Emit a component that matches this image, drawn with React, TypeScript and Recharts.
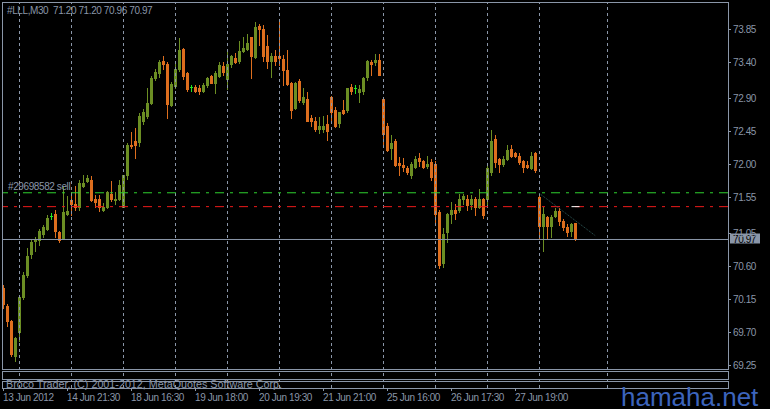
import { ComposedChart, Bar, XAxis, YAxis, ReferenceLine } from 'recharts';

// #LLL M30 candles, left to right
const opens = [
  70.31, 70.06, 69.85, 69.37, 69.70, 70.18, 70.48, 70.77, 70.95, 70.96, 71.04, 71.11, 71.29, 71.32, 71.07, 70.99,
  71.32, 71.51, 71.45, 71.42, 71.70, 71.77, 71.79, 71.53, 71.53, 71.38, 71.41, 71.60, 71.51, 71.53, 71.42, 71.86,
  72.27, 72.32, 72.30, 72.60, 72.66, 72.84, 73.18, 73.25, 73.41, 73.38, 72.81, 73.07, 73.30, 73.58, 73.25, 73.06,
  73.06, 73.04, 73.00, 73.08, 73.21, 73.11, 73.21, 73.34, 73.17, 73.37, 73.45, 73.41, 73.55, 73.58, 73.74, 73.47,
  73.89, 73.86, 73.62, 73.41, 73.49, 73.49, 73.44, 73.29, 73.12, 72.77, 73.14, 72.85, 72.90, 72.64, 72.59, 72.48,
  72.49, 72.55, 72.92, 72.75, 72.56, 72.74, 72.74, 73.06, 73.04, 72.99, 73.00, 73.19, 73.40, 73.40, 73.43, 72.90,
  72.52, 72.22, 72.32, 72.02, 71.99, 71.95, 71.86, 71.96, 72.08, 72.05, 71.97, 72.03, 72.01, 71.34, 70.65, 71.07,
  71.32, 71.38, 71.38, 71.52, 71.52, 71.45, 71.53, 71.41, 71.52, 71.52, 71.89, 72.34, 72.07, 72.00, 72.07, 72.21,
  72.15, 72.11, 72.05, 71.99, 71.95, 72.16, 71.55, 71.15, 71.28, 71.15, 71.29, 71.36, 71.22, 71.14, 71.08, 71.20,
];
const highs = [
  70.34, 70.08, 69.87, 69.64, 70.20, 70.53, 70.85, 70.98, 71.00, 71.11, 71.17, 71.30, 71.33, 71.38, 71.08, 71.69,
  71.56, 71.62, 71.70, 71.78, 71.86, 71.86, 71.84, 71.58, 71.58, 71.47, 71.64, 71.77, 71.62, 71.78, 71.86, 72.29,
  72.44, 72.50, 72.70, 72.76, 73.04, 73.21, 73.30, 73.43, 73.49, 73.40, 73.13, 73.40, 73.73, 73.60, 73.26, 73.09,
  73.09, 73.08, 73.12, 73.20, 73.23, 73.28, 73.40, 73.40, 73.56, 73.50, 73.53, 73.69, 73.74, 73.79, 73.75, 73.95,
  73.92, 73.91, 73.77, 73.53, 73.57, 73.95, 73.50, 73.56, 73.13, 73.13, 73.17, 73.05, 72.99, 72.68, 72.65, 72.65,
  72.66, 72.67, 72.94, 72.79, 72.72, 72.88, 73.05, 73.10, 73.08, 73.08, 73.19, 73.43, 73.43, 73.51, 73.51, 72.92,
  72.56, 72.40, 72.34, 72.10, 72.08, 71.98, 72.03, 72.12, 72.15, 72.06, 72.11, 72.07, 72.05, 71.37, 71.13, 71.33,
  71.48, 71.45, 71.60, 71.60, 71.58, 71.58, 71.55, 71.66, 71.54, 71.97, 72.47, 72.40, 72.09, 72.11, 72.26, 72.27,
  72.17, 72.16, 72.06, 72.04, 72.17, 72.17, 71.61, 71.41, 71.29, 71.31, 71.40, 71.40, 71.25, 71.18, 71.20, 71.20,
];
const lows = [
  70.03, 69.78, 69.37, 69.31, 69.58, 70.15, 70.46, 70.72, 70.81, 70.89, 71.01, 71.10, 71.25, 71.01, 70.94, 70.98,
  71.30, 71.30, 71.37, 71.37, 71.69, 71.76, 71.50, 71.42, 71.36, 71.36, 71.40, 71.50, 71.46, 71.51, 71.41, 71.80,
  72.22, 72.08, 72.25, 72.55, 72.64, 72.83, 73.15, 73.20, 73.30, 72.63, 72.80, 73.05, 73.28, 73.17, 73.00, 73.01,
  72.99, 72.96, 72.99, 73.06, 73.11, 72.97, 73.19, 73.22, 73.03, 73.33, 73.39, 73.39, 73.54, 73.56, 73.18, 73.45,
  73.64, 73.42, 73.32, 73.19, 73.36, 73.36, 73.08, 73.09, 72.64, 72.76, 72.85, 72.82, 72.59, 72.52, 72.45, 72.43,
  72.44, 72.33, 72.59, 72.51, 72.51, 72.69, 72.72, 72.96, 72.98, 72.85, 72.96, 73.16, 73.23, 73.36, 73.22, 72.26,
  72.18, 72.07, 71.98, 71.86, 71.91, 71.87, 71.81, 71.95, 71.97, 71.95, 71.95, 71.79, 71.21, 70.58, 70.60, 70.93,
  71.19, 71.25, 71.35, 71.45, 71.38, 71.39, 71.31, 71.40, 71.26, 71.42, 71.85, 71.96, 71.89, 71.98, 72.06, 72.10,
  72.10, 72.00, 71.90, 71.95, 71.94, 71.90, 70.99, 70.81, 70.97, 71.00, 71.28, 71.17, 71.10, 71.02, 71.02, 70.96,
];
const closes = [
  70.08, 69.86, 69.40, 69.62, 70.18, 70.48, 70.75, 70.93, 70.98, 71.08, 71.14, 71.27, 71.29, 71.09, 70.96, 71.34,
  71.36, 71.45, 71.41, 71.75, 71.75, 71.81, 71.51, 71.48, 71.41, 71.42, 71.62, 71.52, 71.53, 71.72, 71.85, 72.26,
  72.25, 72.27, 72.66, 72.71, 72.84, 73.18, 73.27, 73.40, 73.37, 72.82, 73.10, 73.30, 73.56, 73.21, 73.03, 73.06,
  73.00, 73.00, 73.08, 73.18, 73.12, 73.25, 73.36, 73.26, 73.38, 73.49, 73.40, 73.55, 73.60, 73.66, 73.48, 73.88,
  73.85, 73.48, 73.41, 73.48, 73.42, 73.46, 73.29, 73.10, 72.75, 73.12, 72.88, 72.92, 72.60, 72.59, 72.49, 72.53,
  72.53, 72.45, 72.71, 72.53, 72.71, 72.70, 73.04, 73.01, 73.04, 73.03, 73.18, 73.41, 73.38, 73.43, 73.23, 72.42,
  72.19, 72.29, 71.99, 71.99, 71.96, 71.89, 72.00, 72.07, 72.04, 71.96, 72.01, 71.82, 71.32, 70.62, 71.05, 71.32,
  71.38, 71.33, 71.53, 71.56, 71.44, 71.53, 71.41, 71.53, 71.30, 71.95, 72.32, 72.03, 72.00, 72.07, 72.19, 72.11,
  72.11, 72.03, 71.96, 71.96, 72.12, 71.92, 71.15, 71.32, 71.15, 71.28, 71.36, 71.22, 71.14, 71.07, 71.18, 70.97,
];

const timeTicks = [0, 16, 32, 48, 64, 80, 96, 112, 128];
const timeLabels = [
  '13 Jun 2012', '14 Jun 21:30', '18 Jun 16:30', '19 Jun 18:00', '20 Jun 19:30',
  '21 Jun 21:00', '25 Jun 16:00', '26 Jun 17:30', '27 Jun 19:00',
];
const priceTicks = [73.85, 73.40, 72.90, 72.45, 72.00, 71.55, 71.05, 70.60, 70.15, 69.70, 69.25];
const daySeparators = [4, 17, 30, 43, 56, 69, 82, 95, 108, 121, 134, 151];

const bidPrice = 70.97;
const orderPrice = 71.61;
const stopPrice = 71.42;
const orderLabel = '#29698582 sell';
const stopMarkBars = [142, 144];
const trendBars = [134, 148];
const trendPrices = [71.60, 71.02];

const header = '#LLL,M30  71.20 71.20 70.96 70.97';
const copyright = 'Broco Trader, (C) 2001-2012, MetaQuotes Software Corp.';
const watermark = 'hamaha.net';

const FG = '#8a96a8';
const BULL = '#6b8e23';
const BEAR = '#dd6e1e';
const DOJI = '#22e622';
const FONT = '"Liberation Sans", Arial, sans-serif';

const rows = opens.map((open, i) => ({
  i,
  open,
  high: highs[i],
  low: lows[i],
  close: closes[i],
  range: [lows[i], highs[i]],
}));

// eslint-disable-next-line @typescript-eslint/no-explicit-any
function Candle(props: any) {
  const { x, y, width, height, payload } = props;
  if (!payload) return null;
  const { open, close, high, low } = payload;
  const top = Math.min(y, y + height);
  const ppu = Math.abs(height) / (high - low);
  const py = (p: number) => Math.round(top + (high - p) * ppu);
  const cx = Math.floor(x + width / 2);
  const color = close > open ? BULL : close < open ? BEAR : DOJI;
  const bTop = py(Math.max(open, close));
  const bBot = py(Math.min(open, close));
  return (
    <g>
      <rect x={cx} y={py(high)} width={1} height={py(low) - py(high) + 1} fill={color} />
      <rect x={cx - 1} y={bTop} width={3} height={bBot - bTop + 1} fill={color} />
    </g>
  );
}

// eslint-disable-next-line @typescript-eslint/no-explicit-any
function TimeTick(props: any) {
  const { x, y, payload } = props;
  const idx = timeTicks.indexOf(payload.value);
  const px = Math.floor(x) + 0.5;
  return (
    <g>
      <line x1={px} x2={px} y1={y} y2={y + 3} stroke={FG} />
      <text x={px - 0.5} y={y + 13} fill={FG} fontSize={10} fontFamily={FONT} letterSpacing={-0.4} textAnchor="start">
        {timeLabels[idx]}
      </text>
    </g>
  );
}

// eslint-disable-next-line @typescript-eslint/no-explicit-any
function PriceTick(props: any) {
  const { x, y, payload } = props;
  const py = Math.floor(y) + 0.5;
  const x0 = x - 5;
  return (
    <g>
      <line x1={x0} x2={x0 + 3} y1={py} y2={py} stroke={FG} />
      <text x={x0 + 5} y={py + 3.5} fill={FG} fontSize={10} fontFamily={FONT} letterSpacing={-0.4}>
        {Number(payload.value).toFixed(2)}
      </text>
    </g>
  );
}

// eslint-disable-next-line @typescript-eslint/no-explicit-any
function OrderTag(props: any) {
  const vb = props.viewBox || {};
  return (
    <text x={vb.x + 5} y={vb.y - 2.5} fill={FG} fontSize={10} fontFamily={FONT} letterSpacing={-0.4}>
      {orderLabel}
    </text>
  );
}

// eslint-disable-next-line @typescript-eslint/no-explicit-any
function BidTag(props: any) {
  const vb = props.viewBox || {};
  const right = vb.x + vb.width;
  const py = Math.floor(vb.y) + 0.5;
  return (
    <g>
      <rect x={right + 2} y={py - 6} width={30} height={10} fill={FG} />
      <text x={right + 5} y={py + 3.5} fill="#000" fontSize={10} fontFamily={FONT} letterSpacing={-0.4}>
        {bidPrice.toFixed(2)}
      </text>
    </g>
  );
}

export default function App() {
  return (
    <div style={{ position: 'relative', width: 770, height: 409, background: '#000', overflow: 'hidden' }}>
      <style>{'body{margin:0;background:#000}'}</style>
      <ComposedChart width={770} height={409} data={rows} margin={{ top: 3, right: 0, bottom: 0, left: 3 }}>
        <XAxis
          type="number"
          dataKey="i"
          domain={[-0.125, 181.125]}
          allowDataOverflow
          ticks={timeTicks}
          interval={0}
          height={21}
          axisLine={false}
          tickLine={false}
          tickSize={0}
          tickMargin={0}
          tick={<TimeTick />}
        />
        <YAxis
          orientation="right"
          type="number"
          domain={[68.9357, 74.2097]}
          allowDataOverflow
          ticks={priceTicks}
          interval={0}
          width={42}
          axisLine={false}
          tickLine={false}
          tickSize={0}
          tickMargin={5}
          tick={<PriceTick />}
        />
        {daySeparators.map((d) => (
          <ReferenceLine key={d} x={d} stroke={FG} strokeDasharray="3 3" />
        ))}
        <ReferenceLine y={bidPrice} stroke={FG} label={<BidTag />} />
        <ReferenceLine y={orderPrice} stroke="#2fd02f" strokeWidth={1} strokeDasharray="9 6 3 6" label={<OrderTag />} />
        <ReferenceLine y={stopPrice} stroke="#ee1a1a" strokeWidth={1} strokeDasharray="9 6 3 6" />
        <ReferenceLine
          segment={[{ x: stopMarkBars[0], y: stopPrice }, { x: stopMarkBars[1], y: stopPrice }]}
          stroke="#ffffff"
        />
        <ReferenceLine
          segment={[{ x: trendBars[0], y: trendPrices[0] }, { x: trendBars[1], y: trendPrices[1] }]}
          stroke="#2f5a5a"
          strokeDasharray="1 1"
        />
        <Bar dataKey="range" shape={<Candle />} isAnimationActive={false} />
      </ComposedChart>
      <svg width={770} height={409} style={{ position: 'absolute', left: 0, top: 0, pointerEvents: 'none' }}>
        <rect x={2.5} y={2.5} width={726} height={367} fill="none" stroke={FG} />
        <rect x={2.5} y={371.5} width={726} height={8} fill="none" stroke={FG} />
        <rect x={2.5} y={381.5} width={726} height={7} fill="none" stroke={FG} />
        <text x={7} y={14} fill={FG} fontSize={10} fontFamily={FONT} letterSpacing={-0.4} style={{ whiteSpace: 'pre' }}>
          {header}
        </text>
        <text x={6} y={388} fill={FG} fontSize={10} fontFamily={FONT} textLength={276} lengthAdjust="spacingAndGlyphs">
          {copyright}
        </text>
        <text x={621} y={406} fill="#3c64bc" fontSize={26} fontFamily={FONT}>
          {watermark}
        </text>
      </svg>
    </div>
  );
}
